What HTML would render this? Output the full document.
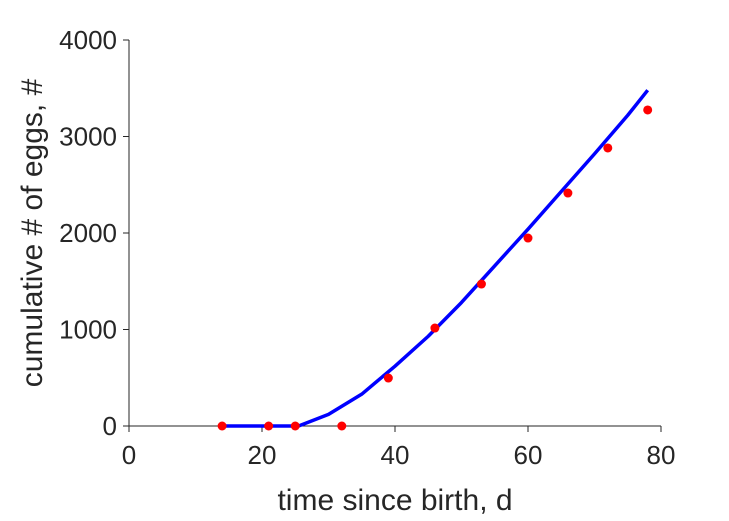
<!DOCTYPE html>
<html><head><meta charset="utf-8"><style>
body{margin:0;background:#fff;}
svg{display:block;font-family:"Liberation Sans",sans-serif;}
</style></head><body>
<svg id="chart" width="729" height="521"></svg>
<script>
const xTicks=[0,20,40,60,80];
const yTicks=[0,1000,2000,3000,4000];
const obsDays=[14,21,25,32,39,46,53,60,66,72,78];
const obsEggs=[0,0,0,0,497,1015,1471,1948,2414,2881,3275];
const fitDays=[14,20,25.5,30,35,40,45,50,55,60,65,70,75,78];
const fitEggs=[0,0,0,120,330,620,930,1280,1660,2040,2430,2820,3220,3480];
const NS="http://www.w3.org/2000/svg";
const svg=document.getElementById('chart');
const X0=129,X1=661,Y0=426,Y1=40;
const sx=v=>X0+(v-0)/(80-0)*(X1-X0);
const sy=v=>Y0-(v-0)/(4000-0)*(Y0-Y1);
function mk(t,a,p){const e=document.createElementNS(NS,t);for(const k in a)e.setAttribute(k,a[k]);(p||svg).appendChild(e);return e;}
const ax=mk('g',{});


let l=mk('line',{x1:X0,y1:Y0,x2:X1,y2:Y0,stroke:'#262626','stroke-width':1},ax);


l=mk('line',{x1:X0,y1:Y0,x2:X0,y2:Y1,stroke:'#262626','stroke-width':1},ax);


xTicks.forEach(v=>{
  const x=sx(v);
  const tk=mk('line',{x1:x,y1:Y0,x2:x,y2:Y0+6,stroke:'#262626'},ax);
  
  
  const t=mk('text',{x:x,y:Y0+38,'text-anchor':'middle','font-size':26,fill:'#262626'},ax);
  t.textContent=v;
  
  
});
yTicks.forEach(v=>{
  const y=sy(v);
  const tk=mk('line',{x1:X0,y1:y,x2:X0-6,y2:y,stroke:'#262626'},ax);
  
  
  const t=mk('text',{x:X0-12,y:y+9,'text-anchor':'end','font-size':26,fill:'#262626'},ax);
  t.textContent=v;
  
  
});
let t=mk('text',{x:395,y:510,'text-anchor':'middle','font-size':30,fill:'#262626'});
t.textContent='time since birth, d';


t=mk('text',{x:0,y:0,'text-anchor':'middle','font-size':30,fill:'#262626',transform:'translate(42,233) rotate(-90)'});
t.textContent='cumulative # of eggs, #';


const pl=mk('polyline',{points:fitDays.map((d,i)=>sx(d)+','+sy(fitEggs[i])).join(' '),fill:'none',stroke:'#0000ff','stroke-width':3.5,'stroke-linejoin':'round'});


obsDays.forEach((d,i)=>{
  const c=mk('circle',{cx:sx(d),cy:sy(obsEggs[i]),r:4.5,fill:'#ff0000'});
  
  
});
</script>
</body></html>
